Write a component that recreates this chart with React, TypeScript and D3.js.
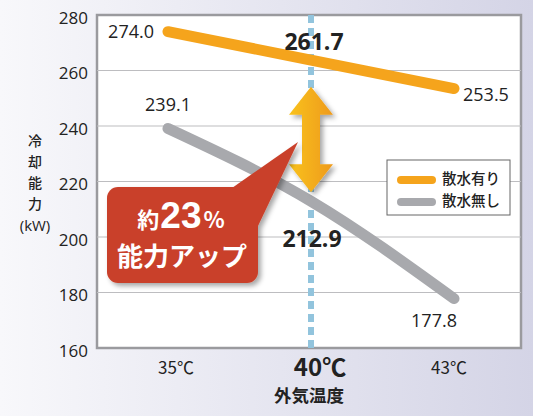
import React from 'react';
import * as d3 from 'd3';

const temps = ['35℃', '40℃', '43℃'];
const withSpray = [274.0, 261.7, 253.5];
const withoutSpray = [239.1, 212.9, 177.8];
const yTicks = [160, 180, 200, 220, 240, 260, 280];
const seriesNames = ['散水有り', '散水無し'];
const yTitle = ['冷', '却', '能', '力'];

const W = 533;
const H = 416;
const plot = { left: 97, right: 521, top: 15, bottom: 348 };
const ORANGE = '#f5a41c';
const GRAY = '#a8a9ad';
const JP = '"Noto Sans CJK JP", "Noto Sans", sans-serif';
const NUM = '"Open Sans", "Noto Sans", sans-serif';

const App = () => {
  const x = d3.scalePoint<string>().domain(temps).range([168, 454]);
  const y = d3.scaleLinear().domain([160, 280]).range([plot.bottom, plot.top]);

  const lineOf = (curve: d3.CurveFactory) =>
    d3
      .line<number>()
      .x((_, i) => x(temps[i])!)
      .y((d) => y(d))
      .curve(curve);
  // orange is drawn as one straight stroke, grey bends through the 40℃ value
  const orangeLine = lineOf(d3.curveBundle.beta(0));
  const grayLine = lineOf(d3.curveMonotoneX);

  const xMid = x(temps[1])!;
  const arrowTop = y(withSpray[1]) + 21;
  const arrowBot = y(withoutSpray[1]) - 9;
  const headH = 28;
  const headW = 22;
  const shaftW = 9;
  const arrowPath = [
    [xMid, arrowTop],
    [xMid + headW, arrowTop + headH],
    [xMid + shaftW, arrowTop + headH],
    [xMid + shaftW, arrowBot - headH],
    [xMid + headW, arrowBot - headH],
    [xMid, arrowBot],
    [xMid - headW, arrowBot - headH],
    [xMid - shaftW, arrowBot - headH],
    [xMid - shaftW, arrowTop + headH],
    [xMid - headW, arrowTop + headH],
  ];

  const first = 0;
  const last = temps.length - 1;

  return (
    <svg width={W} height={H} style={{ position: 'absolute', left: 0, top: 0 }}>
      <defs>
        <linearGradient id="bg" x1="0" x2="1" y1="0" y2="0">
          <stop offset="0" stopColor="#f8f8fb" />
          <stop offset="1" stopColor="#d4d4e6" />
        </linearGradient>
        <linearGradient id="arr" x1="0" x2="1" y1="0" y2="0">
          <stop offset="0" stopColor="#f9c21a" />
          <stop offset="1" stopColor="#ee9a1c" />
        </linearGradient>
        <filter id="sh" x="-30%" y="-30%" width="160%" height="160%">
          <feDropShadow dx="3" dy="3" stdDeviation="2.5" floodColor="#000" floodOpacity="0.35" />
        </filter>
      </defs>
      <rect width={W} height={H} fill="url(#bg)" />

      {/* plot area */}
      <rect
        x={plot.left}
        y={plot.top}
        width={plot.right - plot.left}
        height={plot.bottom - plot.top}
        fill="#fff"
        stroke="#9a9a9e"
        strokeWidth={2.5}
      />
      {yTicks.slice(1, -1).map((t) => (
        <line key={t} x1={plot.left} x2={plot.right} y1={y(t)} y2={y(t)} stroke="#bdbdc0" strokeWidth={1.2} />
      ))}
      {yTicks.map((t) => (
        <text
          key={t}
          x={88}
          y={y(t) + 4}
          textAnchor="end"
          dominantBaseline="middle"
          fontFamily={NUM}
          fontSize={17}
          fill="#222"
        >
          {t}
        </text>
      ))}

      {/* 40℃ reference */}
      <line
        x1={xMid}
        x2={xMid}
        y1={plot.top}
        y2={plot.bottom}
        stroke="#92c4dd"
        strokeWidth={6}
        strokeDasharray="8 5"
      />

      {/* series */}
      <path d={grayLine(withoutSpray)!} fill="none" stroke={GRAY} strokeWidth={11} strokeLinecap="round" />
      <path d={orangeLine(withSpray)!} fill="none" stroke={ORANGE} strokeWidth={11} strokeLinecap="round" />

      {/* difference arrow */}
      <path d={'M' + arrowPath.map((p) => p.join(',')).join('L') + 'Z'} fill="url(#arr)" filter="url(#sh)" />

      {/* data labels */}
      <text x={x(temps[first])! - 14} y={y(withSpray[first]) + 2} textAnchor="end" dominantBaseline="middle" fontFamily={NUM} fontSize={18} fill="#222">
        {withSpray[first].toFixed(1)}
      </text>
      <text x={x(temps[first])!} y={y(withoutSpray[first]) - 22} textAnchor="middle" dominantBaseline="middle" fontFamily={NUM} fontSize={18} fill="#222">
        {withoutSpray[first].toFixed(1)}
      </text>
      <text x={x(temps[last])! + 9} y={y(withSpray[last]) + 8} textAnchor="start" dominantBaseline="middle" fontFamily={NUM} fontSize={18} fill="#222">
        {withSpray[last].toFixed(1)}
      </text>
      <text x={x(temps[last])! - 20} y={y(withoutSpray[last]) + 24} textAnchor="middle" dominantBaseline="middle" fontFamily={NUM} fontSize={18} fill="#222">
        {withoutSpray[last].toFixed(1)}
      </text>
      <text x={xMid + 3} y={y(withSpray[1]) - 22} textAnchor="middle" dominantBaseline="middle" fontFamily={NUM} fontSize={23} fontWeight="bold" fill="#222">
        {withSpray[1].toFixed(1)}
      </text>
      <text x={xMid + 1} y={y(withoutSpray[1]) + 40} textAnchor="middle" dominantBaseline="middle" fontFamily={NUM} fontSize={23} fontWeight="bold" fill="#222">
        {withoutSpray[1].toFixed(1)}
      </text>

      {/* legend */}
      <rect x={387} y={160} width={123} height={55} fill="#fff" stroke="#666" strokeWidth={1} />
      {seriesNames.map((n, i) => (
        <g key={n}>
          <line x1={401} x2={432} y1={180 + i * 22} y2={180 + i * 22} stroke={i === 0 ? ORANGE : GRAY} strokeWidth={8} strokeLinecap="round" />
          <text x={442} y={180 + i * 22} dominantBaseline="middle" fontFamily={JP} fontSize={14.5} fontWeight={500} fill="#222">
            {n}
          </text>
        </g>
      ))}

      {/* callout */}
      <g filter="url(#sh)">
        <path d="M232,188 L298,142 L258,226 Z" fill="#c9402a" />
        <rect x={107} y={187} width={151} height={96} rx={11} fill="#c9402a" />
      </g>
      <text x={181} y={228} textAnchor="middle" fill="#fff" fontFamily={JP} fontWeight="bold">
        <tspan fontSize={22}>約</tspan>
        <tspan fontSize={37} fontFamily='"Liberation Sans", Arial, sans-serif' dx={1}>23</tspan>
        <tspan fontSize={22} dx={2}>%</tspan>
      </text>
      <text x={182} y={266} textAnchor="middle" fill="#fff" fontFamily={JP} fontWeight="bold" fontSize={26}>
        能力アップ
      </text>

      {/* x axis labels */}
      {temps.map((t, i) => (
        <text
          key={t}
          x={x(t)! + (i === 1 ? 9 : i === 0 ? 8 : -5)}
          y={369}
          textAnchor="middle"
          dominantBaseline="middle"
          fontFamily={JP}
          fontSize={i === 1 ? 24 : 17}
          fontWeight={i === 1 ? 'bold' : 'normal'}
          fill="#222"
        >
          {t}
        </text>
      ))}
      <text x={309} y={397} textAnchor="middle" dominantBaseline="middle" fontFamily={JP} fontSize={17.5} fontWeight="bold" fill="#222">
        外気温度
      </text>

      {/* y title */}
      {yTitle.map((c, i) => (
        <text key={c} x={35} y={146 + i * 21} textAnchor="middle" fontFamily={JP} fontSize={14} fontWeight={500} fill="#222">
          {c}
        </text>
      ))}
      <text x={35} y={231} textAnchor="middle" fontFamily={NUM} fontSize={15} fill="#222">
        (kW)
      </text>
    </svg>
  );
};

export default App;
